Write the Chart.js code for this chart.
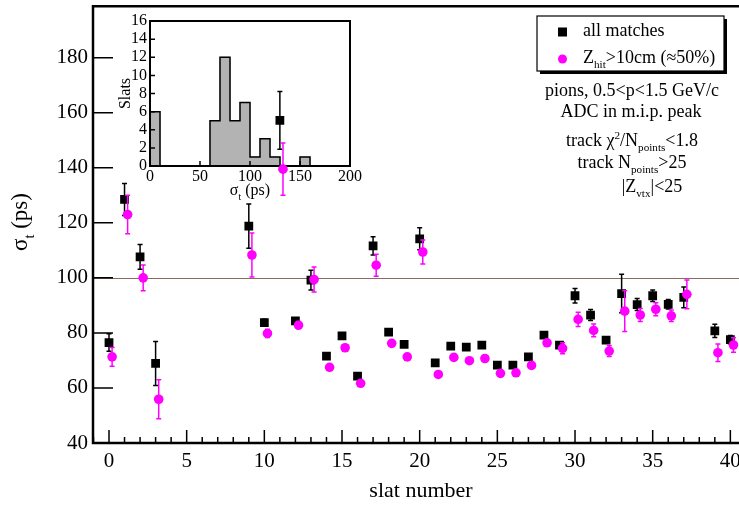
<!DOCTYPE html>
<html>
<head>
<meta charset="utf-8">
<script src="https://cdn.jsdelivr.net/npm/chart.js@4.4.0/dist/chart.umd.min.js"></script>
<style>
  html, body { margin: 0; padding: 0; background: #fff; overflow: hidden; }
  #wrap { position: relative; width: 739px; height: 506px; overflow: hidden; }
  #inset { position: absolute; left: 100px; top: 0; }
  #main { position: absolute; left: 0; top: 0; }
</style>
</head>
<body>
<div id="wrap">
  <canvas id="inset" width="270" height="205"></canvas>
  <canvas id="main" width="780" height="506"></canvas>
</div>
<script>
// Chart data
const slats = [0, 1, 2, 3, 9, 10, 11, 12, 13, 14, 15, 16, 17, 18, 19, 20, 21, 22, 23, 24,
               25, 26, 27, 28, 29, 30, 31, 32, 33, 34, 35, 36, 37, 39, 40];
const allMatches = [76.5, 128.5, 107.6, 68.9, 118.8, 83.7, 157.2, 84.4, 99.2, 71.6, 78.9, 64.3, 111.6, 80.3, 75.8, 114.2, 69.1, 75.2, 74.8, 75.6,
                    68.3, 68.3, 71.3, 79.2, 75.6, 93.5, 86.5, 77.4, 94.3, 90.3, 93.5, 90.4, 92.9, 80.7, 77.6];
const allErr = [3.2, 5.8, 4.5, 8, 8, 1.3, 10.5, 1, 3.6, 0.8, 0.8, 0.8, 3.3, 1, 0.8, 4, 0.8, 0.8, 0.8, 0.8,
                0.8, 0.8, 0.8, 0.8, 1, 2.6, 2, 1, 7, 2.2, 2.1, 1.7, 3.8, 2.4, 1.5];
const zhitMatches = [71.3, 123, 100, 55.9, 108.3, 79.8, 139.5, 82.8, 99.4, 67.5, 74.6, 61.7, 104.6, 76.2, 71.3, 109.4, 64.9, 71.1, 69.9, 70.7,
                     65.3, 65.5, 68.2, 76.4, 74.4, 84.9, 80.9, 73.4, 87.9, 86.5, 88.6, 86.2, 94, 72.8, 75.6];
const zhitErr = [3.4, 7, 4.7, 7.1, 8, 1.5, 9.5, 1.3, 4.5, 0.8, 0.8, 0.8, 4, 1, 0.8, 4.4, 1, 0.8, 0.8, 0.8,
                 0.8, 0.8, 0.8, 0.8, 2, 2.6, 2.3, 2, 7.4, 2.4, 2.4, 2.1, 5.2, 3.2, 2.6];
const zhitShift = 0.2;   // magenta points sit a little right of the black ones

const xTicks = [0, 5, 10, 15, 20, 25, 30, 35, 40];
const yTicks = [40, 60, 80, 100, 120, 140, 160, 180];
const refLine = 100;

// inset histogram of sigma_t
const histBins = [5, 15, 25, 35, 45, 55, 65, 75, 85, 95, 105, 115, 125, 135, 145, 155, 165, 175, 185, 195];
const histCounts = [6, 0, 0, 0, 0, 0, 5, 12, 5, 7, 1, 3, 1, 0, 0, 1, 0, 0, 0, 0];
const insetXTicks = [0, 50, 100, 150, 200];
const insetYTicks = [0, 2, 4, 6, 8, 10, 12, 14, 16];

const SERIF = "'Liberation Serif', 'DejaVu Serif', serif";

// draw text with sub/superscripts: parts = [[text, ''|'sub'|'sup'], ...]
function drawRich(ctx, parts, x, y, size, align) {
    let w = 0;
    parts.forEach(([t, k]) => {
        ctx.font = (k ? size * 0.62 : size) + 'px ' + SERIF;
        w += ctx.measureText(t).width;
    });
    let cx = align === 'center' ? x - w / 2 : x;
    ctx.textAlign = 'left';
    ctx.textBaseline = 'alphabetic';
    parts.forEach(([t, k]) => {
        ctx.font = (k ? size * 0.62 : size) + 'px ' + SERIF;
        const dy = k === 'sub' ? size * 0.3 : (k === 'sup' ? -size * 0.38 : 0);
        ctx.fillText(t, cx, y + dy);
        cx += ctx.measureText(t).width;
    });
}

function toPoints(vals, shift) {
    return slats.map((s, i) => ({ x: s + shift, y: vals[i] }));
}

// keep the plot box where it is: no extra room for edge labels
function noEdgePadding(s) {
    s.paddingTop = 0;
    s.paddingBottom = 0;
    s.paddingLeft = 0;
    s.paddingRight = 0;
}

// Error bars, drawn just before each dataset's markers
const errorBars = {
    id: 'errorBars',
    beforeDatasetDraw(chart, args) {
        const ds = chart.data.datasets[args.index];
        if (!ds.errors) return;
        const { ctx, chartArea, scales: { x, y } } = chart;
        ctx.save();
        ctx.beginPath();
        ctx.rect(chartArea.left, chartArea.top, chartArea.right - chartArea.left, chartArea.bottom - chartArea.top);
        ctx.clip();
        ctx.strokeStyle = ds.borderColor;
        ctx.lineWidth = 1.5;
        ds.data.forEach((p, i) => {
            const e = ds.errors[i];
            const px = x.getPixelForValue(p.x);
            const top = y.getPixelForValue(p.y + e);
            const bot = y.getPixelForValue(p.y - e);
            ctx.beginPath();
            ctx.moveTo(px, top); ctx.lineTo(px, bot);
            ctx.moveTo(px - 2.5, top); ctx.lineTo(px + 2.5, top);
            ctx.moveTo(px - 2.5, bot); ctx.lineTo(px + 2.5, bot);
            ctx.stroke();
        });
        ctx.restore();
    }
};

// Reference line, inward ticks, frame, legend and notes of the main chart
const mainDecor = {
    id: 'mainDecor',
    beforeDatasetsDraw(chart) {
        const { ctx, chartArea: a, scales: { x, y } } = chart;
        ctx.save();
        // reference line
        ctx.strokeStyle = '#8c6a5c';
        ctx.lineWidth = 1;
        const ry = Math.round(y.getPixelForValue(refLine)) + 0.5;
        ctx.beginPath(); ctx.moveTo(a.left, ry); ctx.lineTo(a.right, ry); ctx.stroke();
        // inward ticks
        ctx.strokeStyle = '#000';
        ctx.lineWidth = 1.5;
        ctx.beginPath();
        for (let v = Math.ceil(x.min); v <= x.max; v++) {
            const px = x.getPixelForValue(v);
            const len = xTicks.includes(v) ? 13 : 6;
            ctx.moveTo(px, a.bottom); ctx.lineTo(px, a.bottom - len);
        }
        yTicks.forEach(v => {
            const py = y.getPixelForValue(v);
            ctx.moveTo(a.left, py); ctx.lineTo(a.left + 20, py);
        });
        ctx.stroke();
        ctx.restore();
    },
    afterDraw(chart) {
        const { ctx, chartArea: a } = chart;
        ctx.save();
        // frame (right edge lies outside the window)
        ctx.strokeStyle = '#000';
        ctx.lineWidth = 2.5;
        ctx.beginPath();
        ctx.moveTo(a.right, a.top); ctx.lineTo(a.left, a.top);
        ctx.lineTo(a.left, a.bottom); ctx.lineTo(a.right, a.bottom);
        ctx.stroke();

        // y axis title
        ctx.fillStyle = '#000';
        ctx.save();
        ctx.translate(27, 222);
        ctx.rotate(-Math.PI / 2);
        drawRich(ctx, [['\u03c3', ''], ['t', 'sub'], [' (ps)', '']], 0, 0, 23, 'center');
        ctx.restore();

        // legend box with shadow
        const bx = 537, by = 16, bw = 187, bh = 55;
        ctx.fillStyle = '#000';
        ctx.fillRect(bx + 3, by + 3, bw, bh);
        ctx.fillStyle = '#fff';
        ctx.fillRect(bx, by, bw, bh);
        ctx.strokeStyle = '#000';
        ctx.lineWidth = 1.2;
        ctx.strokeRect(bx, by, bw, bh);
        ctx.fillStyle = '#000';
        ctx.fillRect(558, 27.5, 9, 9);
        ctx.fillStyle = '#ff00ff';
        ctx.beginPath(); ctx.arc(562.5, 59, 4.5, 0, Math.PI * 2); ctx.fill();
        ctx.fillStyle = '#000';
        drawRich(ctx, [['all matches', '']], 583, 36, 18, 'left');
        drawRich(ctx, [['Z', ''], ['hit', 'sub'], ['>10cm (\u224850%)', '']], 583, 63, 18, 'left');

        // cut notes
        drawRich(ctx, [['pions, 0.5<p<1.5 GeV/c', '']], 632, 96, 18, 'center');
        drawRich(ctx, [['ADC in m.i.p. peak', '']], 631, 117, 18, 'center');
        drawRich(ctx, [['track \u03c7', ''], ['2', 'sup'], ['/N', ''], ['points', 'sub'], ['<1.8', '']], 632, 145.5, 18, 'center');
        drawRich(ctx, [['track N', ''], ['points', 'sub'], ['>25', '']], 632, 168, 18, 'center');
        drawRich(ctx, [['|Z', ''], ['vtx', 'sub'], ['|<25', '']], 652, 191.5, 18, 'center');
        ctx.restore();
    }
};

// Inset: step outline of the histogram, inward ticks, frame and x title
const insetDecor = {
    id: 'insetDecor',
    afterDatasetsDraw(chart) {
        const { ctx, scales: { x, y } } = chart;
        const half = (histBins[1] - histBins[0]) / 2;
        ctx.save();
        ctx.strokeStyle = '#000';
        ctx.lineWidth = 1.5;
        ctx.beginPath();
        ctx.moveTo(x.getPixelForValue(histBins[0] - half), y.getPixelForValue(0));
        histBins.forEach((b, i) => {
            ctx.lineTo(x.getPixelForValue(b - half), y.getPixelForValue(histCounts[i]));
            ctx.lineTo(x.getPixelForValue(b + half), y.getPixelForValue(histCounts[i]));
        });
        ctx.stroke();
        ctx.restore();
    },
    afterDraw(chart) {
        const { ctx, chartArea: a, scales: { x, y } } = chart;
        ctx.save();
        ctx.strokeStyle = '#000';
        ctx.lineWidth = 1.5;
        ctx.beginPath();
        insetXTicks.forEach(v => {
            const px = x.getPixelForValue(v);
            ctx.moveTo(px, a.bottom); ctx.lineTo(px, a.bottom - 5);
        });
        insetYTicks.forEach(v => {
            const py = y.getPixelForValue(v);
            ctx.moveTo(a.left, py); ctx.lineTo(a.left + 5, py);
        });
        ctx.stroke();
        ctx.lineWidth = 2;
        ctx.strokeRect(a.left, a.top, a.right - a.left, a.bottom - a.top);
        ctx.fillStyle = '#000';
        drawRich(ctx, [['\u03c3', ''], ['t', 'sub'], [' (ps)', '']], 150, 195, 16, 'center');
        ctx.restore();
    }
};

function initInset() {
    const ctx = document.getElementById('inset').getContext('2d');
    return new Chart(ctx, {
        type: 'bar',
        data: {
            datasets: [{
                data: histBins.map((b, i) => ({ x: b, y: histCounts[i] })),
                backgroundColor: '#b3b3b3',
                borderWidth: 0,
                inflateAmount: 0.5,
                barPercentage: 1,
                categoryPercentage: 1
            }]
        },
        options: {
            responsive: false,
            animation: false,
            devicePixelRatio: 1,
            layout: { padding: { top: 21, right: 20, left: 0, bottom: 0 } },
            plugins: { legend: { display: false }, tooltip: { enabled: false } },
            scales: {
                x: {
                    type: 'linear',
                    offset: false,
                    min: 0, max: 200,
                    afterBuildTicks: s => { s.ticks = insetXTicks.map(v => ({ value: v })); },
                    afterFit: s => { s.height = 39; noEdgePadding(s); },
                    grid: { display: false, drawTicks: false, offset: false },
                    border: { display: false },
                    ticks: { color: '#000', padding: 1, maxRotation: 0, autoSkip: false, font: { family: SERIF, size: 16 } }
                },
                y: {
                    min: 0, max: 16,
                    afterBuildTicks: s => { s.ticks = insetYTicks.map(v => ({ value: v })); },
                    afterFit: s => { s.width = 50; noEdgePadding(s); },
                    grid: { display: false, drawTicks: false },
                    border: { display: false },
                    ticks: { color: '#000', padding: 3, autoSkip: false, font: { family: SERIF, size: 16 } },
                    title: { display: true, text: 'Slats', color: '#000', padding: { top: 16, bottom: 0 }, font: { family: SERIF, size: 16 } }
                }
            }
        },
        plugins: [insetDecor]
    });
}

function initMain() {
    const ctx = document.getElementById('main').getContext('2d');
    return new Chart(ctx, {
        type: 'scatter',
        data: {
            datasets: [{
                label: 'all matches',
                data: toPoints(allMatches, 0),
                errors: allErr,
                pointStyle: 'rect',
                pointRadius: 6.2,
                backgroundColor: '#000',
                borderColor: '#000',
                pointBorderWidth: 0,
                order: 2
            }, {
                label: 'Zhit>10cm',
                data: toPoints(zhitMatches, zhitShift),
                errors: zhitErr,
                pointStyle: 'circle',
                pointRadius: 4.8,
                backgroundColor: '#ff00ff',
                borderColor: '#ff00ff',
                pointBorderWidth: 0,
                order: 1
            }]
        },
        options: {
            responsive: false,
            animation: false,
            devicePixelRatio: 1,
            layout: { padding: { top: 5, right: 31, left: 0, bottom: 0 } },
            plugins: { legend: { display: false }, tooltip: { enabled: false } },
            scales: {
                x: {
                    type: 'linear',
                    min: -1.03, max: 41.2,
                    afterBuildTicks: s => { s.ticks = xTicks.map(v => ({ value: v })); },
                    afterFit: s => { s.height = 63; noEdgePadding(s); },
                    grid: { display: false, drawTicks: false },
                    border: { display: false },
                    ticks: { color: '#000', padding: 6, maxRotation: 0, autoSkip: false, font: { family: SERIF, size: 21 } },
                    title: { display: true, text: 'slat number', color: '#000', padding: { top: 0, bottom: 2 }, font: { family: SERIF, size: 22 } }
                },
                y: {
                    min: 40, max: 198.7,
                    afterBuildTicks: s => { s.ticks = yTicks.map(v => ({ value: v })); },
                    afterFit: s => { s.width = 93; noEdgePadding(s); },
                    grid: { display: false, drawTicks: false },
                    border: { display: false },
                    ticks: { color: '#000', padding: 5, autoSkip: false, font: { family: SERIF, size: 21 } }
                }
            }
        },
        plugins: [errorBars, mainDecor]
    });
}

document.addEventListener('DOMContentLoaded', function() {
    initInset();
    initMain();
});
</script>
</body>
</html>
